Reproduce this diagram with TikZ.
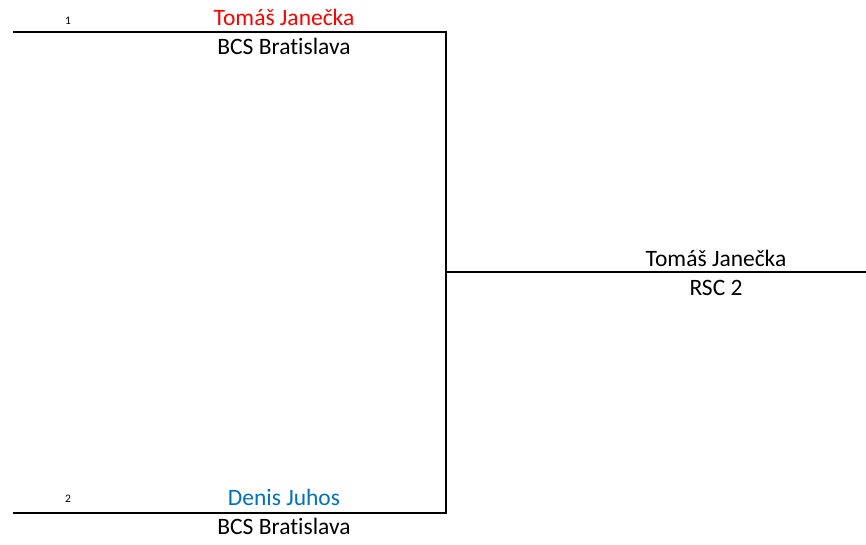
\documentclass[tikz,border=0pt]{standalone}
\usepackage{fontspec}
\setmainfont{Carlito}[Ligatures=NoCommon]
\definecolor{winred}{RGB}{255,0,0}
\definecolor{loseblue}{RGB}{0,112,192}
\begin{document}
\begin{tikzpicture}[x=1pt,y=-1pt,
  lbl/.style={anchor=base,inner sep=0pt,font=\fontsize{23.5}{26}\selectfont},
  seed/.style={anchor=base,inner sep=0pt,font=\fontsize{11.5}{13}\selectfont},
  bline/.style={line width=2pt}]
\useasboundingbox (0,0) rectangle (866,544);
\coordinate (t0) at (13,31.5);
\coordinate (t1) at (446,31.5);
\coordinate (b0) at (13,513);
\coordinate (b1) at (446,513);
\coordinate (m0) at (446,271.5);
\coordinate (m1) at (866,271.5);
\draw[bline] (t0) -- (t1) -- (b1) -- (b0);
\draw[bline] (m0) -- (m1);
\node[seed] (s1) at (68,24) {1};
\node[lbl,text=winred] (p1) at (284,25) {Tomáš Janečka};
\node[lbl] (c1) at (284,54) {BCS Bratislava};
\node[seed] (s2) at (68,502) {2};
\node[lbl,text=loseblue] (p2) at (284,505) {Denis Juhos};
\node[lbl] (c2) at (284,534) {BCS Bratislava};
\node[lbl] (w) at (716,266) {Tomáš Janečka};
\node[lbl] (wc) at (716,295) {RSC 2};
\end{tikzpicture}
\end{document}
